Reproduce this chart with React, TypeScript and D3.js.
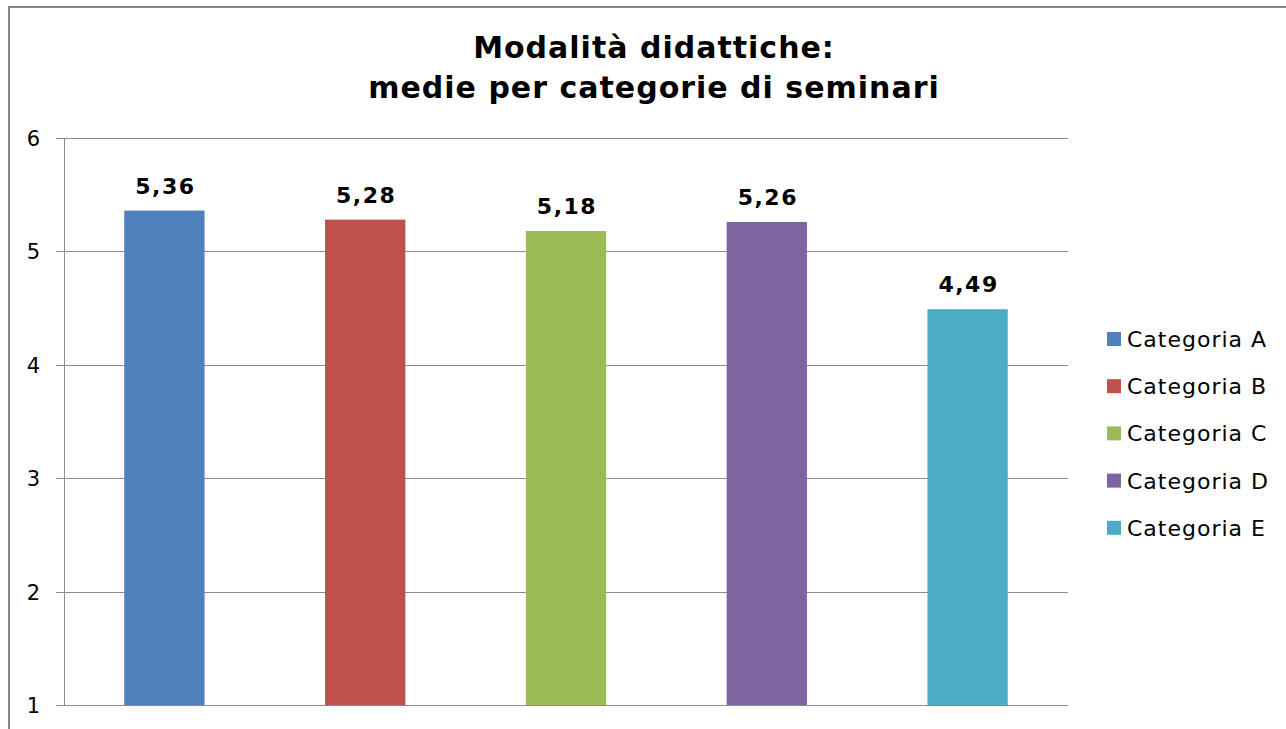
import * as d3 from 'd3';
import * as React from 'react';
import { useEffect, useRef } from 'react';

const categories = ['Categoria A', 'Categoria B', 'Categoria C', 'Categoria D', 'Categoria E'];
const values = [5.36, 5.28, 5.18, 5.26, 4.49];
const colors = ['#4F81BD', '#C0504D', '#9BBB59', '#8064A2', '#4BACC6'];
const yTicks = [1, 2, 3, 4, 5, 6];
const titleLines = ['Modalità didattiche:', 'medie per categorie di seminari'];

export default function App() {
  const ref = useRef<SVGSVGElement | null>(null);

  useEffect(() => {
    const width = 1286, height = 729;
    const margin = { top: 138, left: 64, right: 1068, bottom: 705 };
    const font = 'Verdana, "DejaVu Sans", sans-serif';

    const svg = d3.select(ref.current);
    svg.selectAll('*').remove();
    svg.attr('width', width).attr('height', height);

    // outer chart frame (clipped on the right and bottom)
    svg.append('rect')
      .attr('x', 9).attr('y', 7)
      .attr('width', width + 20).attr('height', height + 20)
      .attr('fill', '#fff')
      .attr('stroke', '#868686')
      .attr('stroke-width', 2);

    const x = d3.scaleBand().domain(categories).range([margin.left, margin.right]).paddingInner(0.6).paddingOuter(0.3);
    const y = d3.scaleLinear().domain([1, 6]).range([margin.bottom, margin.top]);

    // gridlines
    svg.append('g').selectAll('line')
      .data(yTicks)
      .enter()
      .append('line')
      .attr('x1', margin.left - 8)
      .attr('x2', margin.right)
      .attr('y1', d => Math.round(y(d)) + 0.5)
      .attr('y2', d => Math.round(y(d)) + 0.5)
      .attr('stroke', '#8c8c8c')
      .attr('stroke-width', 1);

    // y axis line
    svg.append('line')
      .attr('x1', margin.left + 0.5).attr('x2', margin.left + 0.5)
      .attr('y1', margin.top).attr('y2', margin.bottom)
      .attr('stroke', '#8c8c8c');

    // y tick labels
    svg.append('g').selectAll('text')
      .data(yTicks)
      .enter()
      .append('text')
      .attr('x', 40)
      .attr('y', d => y(d) + 8)
      .attr('text-anchor', 'end')
      .attr('font-family', font)
      .attr('font-size', 21)
      .attr('fill', '#000')
      .text(d => d);

    // bars
    svg.append('g').selectAll('rect')
      .data(values)
      .enter()
      .append('rect')
      .attr('x', (d, i) => x(categories[i]) as number)
      .attr('width', x.bandwidth())
      .attr('y', d => y(d))
      .attr('height', d => y(1) - y(d))
      .attr('fill', (d, i) => colors[i]);

    // value labels
    svg.append('g').selectAll('text')
      .data(values)
      .enter()
      .append('text')
      .attr('x', (d, i) => (x(categories[i]) as number) + x.bandwidth() / 2 + 1)
      .attr('y', d => y(d) - 17)
      .attr('text-anchor', 'middle')
      .attr('font-family', font)
      .attr('font-weight', 'bold')
      .attr('font-size', 22)
      .attr('letter-spacing', 1.5)
      .attr('fill', '#000')
      .text(d => d.toFixed(2).replace('.', ','));

    // title
    svg.append('g').selectAll('text')
      .data(titleLines)
      .enter()
      .append('text')
      .attr('x', 654)
      .attr('y', (d, i) => 58 + i * 40)
      .attr('text-anchor', 'middle')
      .attr('font-family', font)
      .attr('font-weight', 'bold')
      .attr('font-size', 30)
      .attr('letter-spacing', 1)
      .attr('fill', '#000')
      .text(d => d);

    // legend
    const legend = svg.append('g').selectAll('g')
      .data(categories)
      .enter()
      .append('g')
      .attr('transform', (d, i) => 'translate(1107,' + (339 + i * 47.2) + ')');

    legend.append('rect')
      .attr('x', 0).attr('y', -7)
      .attr('width', 14).attr('height', 14)
      .attr('fill', (d, i) => colors[i]);

    legend.append('text')
      .attr('x', 20)
      .attr('y', 8)
      .attr('font-family', font)
      .attr('font-size', 22)
      .attr('letter-spacing', 1)
      .attr('fill', '#000')
      .text(d => d);
  }, []);

  return (
    <svg ref={ref} style={{ position: 'absolute', left: 0, top: 0, display: 'block' }}></svg>
  );
}
